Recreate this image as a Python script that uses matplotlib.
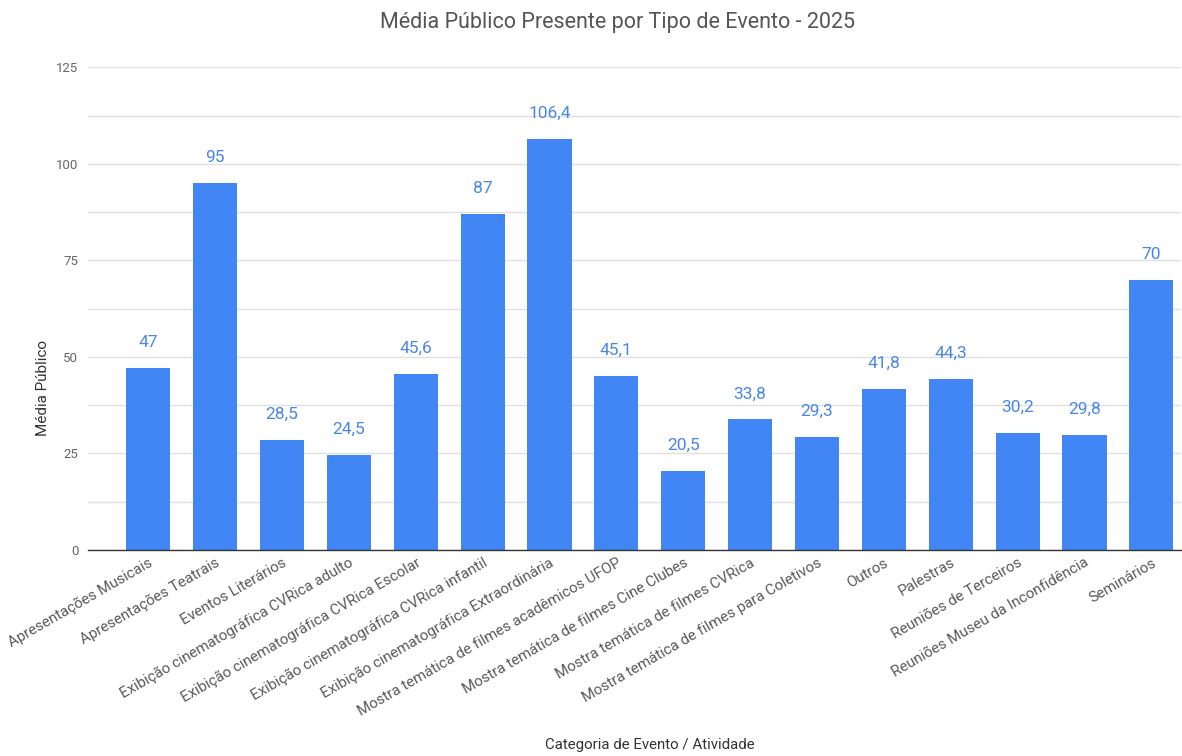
import matplotlib
matplotlib.use("Agg")
import matplotlib.pyplot as plt

categories = [
    "Apresentações Musicais",
    "Apresentações Teatrais",
    "Eventos Literários",
    "Exibição cinematográfica CVRica adulto",
    "Exibição cinematográfica CVRica Escolar",
    "Exibição cinematográfica CVRica infantil",
    "Exibição cinematográfica Extraordinária",
    "Mostra temática de filmes acadêmicos UFOP",
    "Mostra temática de filmes Cine Clubes",
    "Mostra temática de filmes CVRica",
    "Mostra temática de filmes para Coletivos",
    "Outros",
    "Palestras",
    "Reuniões de Terceiros",
    "Reuniões Museu da Inconfidência",
    "Seminários",
]
values = [47, 95, 28.5, 24.5, 45.6, 87, 106.4, 45.1, 20.5, 33.8, 29.3, 41.8, 44.3, 30.2, 29.8, 70]
y_ticks = [0, 25, 50, 75, 100, 125]

plt.rcParams['font.family'] = ['Roboto', 'DejaVu Sans']

fig = plt.figure(figsize=(11.82, 7.56), dpi=100)
ax = fig.add_axes([0.0745, 0.2725, 0.925, 0.6385])

x = list(range(len(categories)))
bars = ax.bar(x, values, width=0.66, color="#4285f4", zorder=3)

def fmt(v):
    if float(v).is_integer():
        return str(int(v))
    return f"{v}".replace(".", ",")

for xi, v in zip(x, values):
    ax.annotate(fmt(v), (xi, v), xytext=(0, 13), textcoords="offset points",
                ha="center", va="bottom", fontsize=12.5, color="#4a86e8")

ax.set_xlim(-0.9, 15.45)
ax.set_ylim(0, 125)
ax.set_yticks(y_ticks)
ax.set_yticks([12.5, 37.5, 62.5, 87.5, 112.5], minor=True)
ax.set_yticklabels([str(t) for t in y_ticks], fontsize=9.5, color="#666666")
ax.grid(axis="y", which="both", color="#e0e0e0", linewidth=1, zorder=0)
ax.tick_params(axis="y", which="both", length=0, pad=7)
ax.tick_params(axis="x", length=0, pad=4)
ax.set_xticks(x)
ax.set_xticklabels(categories, rotation=30, ha="right", rotation_mode="anchor",
                   fontsize=10.8, color="#5a5a5a")
for s in ["top", "right", "left"]:
    ax.spines[s].set_visible(False)
ax.spines["bottom"].set_color("#333333")
ax.spines["bottom"].set_linewidth(1)
ax.spines["bottom"].set_zorder(4)

fig.text(0.522, 0.97, "Média Público Presente por Tipo de Evento - 2025",
         ha="center", va="center", fontsize=15.5, color="#555555")
fig.text(0.036, 0.487, "Média Público", rotation=90, ha="center", va="center",
         fontsize=11, color="#333333")
fig.text(0.55, 0.014, "Categoria de Evento / Atividade", ha="center", va="center",
         fontsize=10.8, color="#333333")

fig.savefig("out.png", dpi=100)
